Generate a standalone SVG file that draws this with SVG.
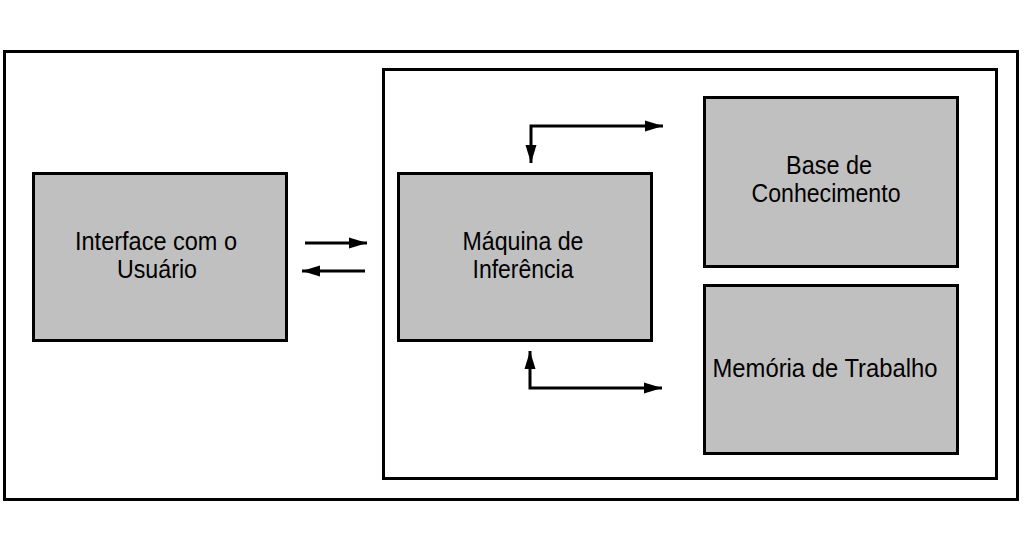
<svg xmlns="http://www.w3.org/2000/svg" width="1024" height="552" viewBox="0 0 1024 552">
<defs>
<style>
.frame{fill:none;stroke:#000;stroke-width:3}
.box{fill:#c0c0c0;stroke:#000;stroke-width:3}
.lbl{font-family:"Liberation Sans",Arial,sans-serif;font-size:25px;fill:#000;text-anchor:middle}
.conn{fill:none;stroke:#000;stroke-width:3}
</style>
<marker id="ah" markerUnits="userSpaceOnUse" markerWidth="20" markerHeight="12" refX="18" refY="6" orient="auto-start-reverse">
<path d="M0,0.5 L18,6 L0,11.5 Z" fill="#000"/>
</marker>
</defs>
<rect width="1024" height="552" fill="#fff"/>
<rect id="outer" class="frame" x="4.5" y="51.5" width="1013" height="448"/>
<rect id="system" class="frame" x="383.5" y="69.5" width="613" height="409"/>
<g id="interface">
<rect class="box" x="33.5" y="173.5" width="253" height="167"/>
<text class="lbl" x="156" y="250" textLength="162" lengthAdjust="spacingAndGlyphs">Interface com o</text>
<text class="lbl" x="157" y="278" textLength="80" lengthAdjust="spacingAndGlyphs">Usuário</text>
</g>
<g id="maquina">
<rect class="box" x="398.5" y="173.5" width="253" height="167"/>
<text class="lbl" x="523" y="250" textLength="121" lengthAdjust="spacingAndGlyphs">Máquina de</text>
<text class="lbl" x="523" y="278" textLength="101" lengthAdjust="spacingAndGlyphs">Inferência</text>
</g>
<g id="base">
<rect class="box" x="704.5" y="97.5" width="253" height="169"/>
<text class="lbl" x="829" y="174" textLength="86" lengthAdjust="spacingAndGlyphs">Base de</text>
<text class="lbl" x="826" y="202" textLength="149" lengthAdjust="spacingAndGlyphs">Conhecimento</text>
</g>
<g id="memoria">
<rect class="box" x="704.5" y="285.5" width="253" height="168"/>
<text class="lbl" x="825" y="377" textLength="225" lengthAdjust="spacingAndGlyphs">Memória de Trabalho</text>
</g>
<g id="connectors">
<path class="conn" d="M305,243 H367" marker-end="url(#ah)"/>
<path class="conn" d="M365,271 H302" marker-end="url(#ah)"/>
<path class="conn" d="M531,163 V126 H663" marker-start="url(#ah)" marker-end="url(#ah)"/>
<path class="conn" d="M530,351 V388 H662" marker-start="url(#ah)" marker-end="url(#ah)"/>
</g>
</svg>
